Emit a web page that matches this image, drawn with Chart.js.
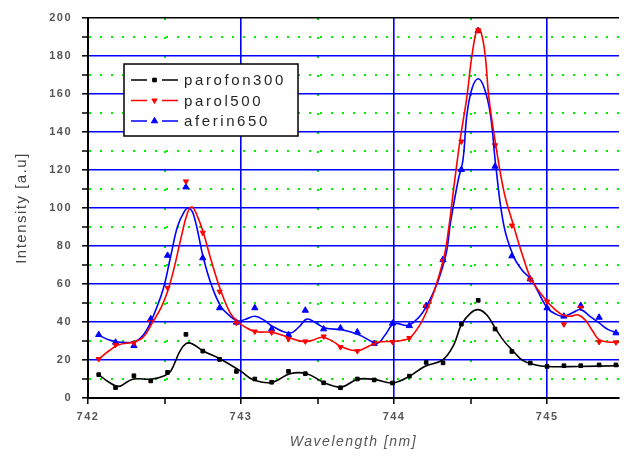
<!DOCTYPE html>
<html>
<head>
<meta charset="utf-8">
<script src="https://cdn.jsdelivr.net/npm/chart.js@4"></script>
<style>
  html, body { margin: 0; padding: 0; background: #fff; }
</style>
</head>
<body>
<canvas id="spectra" width="624" height="459"></canvas>
<script>
// measured samples (wavelength in nm)
const sampleX = [742.07, 742.18, 742.30, 742.41, 742.52, 742.64, 742.75, 742.86, 742.97, 743.09,
  743.20, 743.31, 743.42, 743.54, 743.65, 743.76, 743.87, 743.99, 744.10, 744.21,
  744.32, 744.44, 744.55, 744.66, 744.77, 744.89, 745.00, 745.11, 745.22, 745.34, 745.45];
const parofonPts = [12.3, 5.5, 11.7, 9, 13.5, 33.5, 24.7, 20.3, 14, 10,
  8.3, 14, 12.8, 8, 5.4, 10, 9.5, 7.9, 11.5, 18.7,
  18.5, 38.9, 51.4, 36.3, 24.5, 18.4, 16.6, 17, 17, 17.4, 17.4];
const parolPts = [20.5, 28, 29, 40, 58, 114, 87, 56, 39.5, 35,
  34.5, 31, 29.8, 32.4, 26.8, 24.7, 29, 29.5, 31.6, 48.2,
  72, 135, 193.5, 133, 90.8, 62.3, 50.8, 38.8, 47.5, 29.5, 29.3];
const aferinPts = [33.3, 29.3, 27.5, 41.6, 75, 111, 73.7, 47.4, 39.8, 47.4,
  36.3, 33.3, 46.1, 36.3, 36.8, 34.7, 28.6, 39.3, 38, 48.6,
  72.8, 120.2, 193.3, 121.9, 74.7, 62.6, 47.4, 43, 48.6, 42.4, 34.2];

// smoothed curves
const parofonFitX = [742.07, 742.13, 742.20, 742.26, 742.30, 742.42, 742.50, 742.54, 742.60, 742.64,
  742.68, 742.75, 742.87, 743.00, 743.08, 743.20, 743.32, 743.43, 743.54, 743.655,
  743.76, 743.87, 743.99, 744.10, 744.20, 744.32, 744.39, 744.44, 744.50, 744.55,
  744.605, 744.665, 744.72, 744.78, 744.84, 744.92, 745.00, 745.20, 745.47];
const parofonFit = [12.3, 8.7, 6.1, 8.7, 10, 10, 11.7, 14, 24.5, 28.6,
  28.6, 24.9, 20.3, 14, 9.6, 8.2, 12.8, 12.8, 8.2, 5.8,
  9.8, 9.8, 7.9, 11.4, 16.6, 20.2, 28, 38.6, 44.7, 46.5,
  43.8, 36.3, 29.8, 24.5, 19.8, 17.5, 16.6, 16.6, 17];

const parolFitX = [742.07, 742.14, 742.20, 742.30, 742.36, 742.42, 742.48, 742.52, 742.56, 742.61,
  742.65, 742.68, 742.715, 742.754, 742.81, 742.87, 742.93, 742.98, 743.02, 743.09,
  743.21, 743.32, 743.40, 743.46, 743.53, 743.60, 743.66, 743.76, 743.84, 743.90,
  744.00, 744.05, 744.11, 744.21, 744.32, 744.36, 744.39, 744.43, 744.475, 744.51,
  744.545, 744.57, 744.595, 744.62, 744.665, 744.72, 744.78, 744.84, 744.90, 745.00,
  745.06, 745.10, 745.15, 745.20, 745.25, 745.30, 745.34, 745.40, 745.47];
const parolFit = [20.5, 25, 28, 29.5, 32, 39.5, 48, 56, 67.5, 85,
  97.4, 100.5, 95.6, 87, 71, 56, 44.7, 40, 37.7, 35,
  34.5, 31.6, 29.8, 30.2, 32, 29.8, 26.8, 24.9, 27.5, 29.5,
  29.8, 30.3, 32, 45, 72, 91, 110.5, 135, 158, 180.7,
  194.5, 192, 180.7, 158, 133, 108, 91, 75, 62, 50.8,
  46, 43.8, 43, 43.8, 41, 35, 30.7, 29.5, 29.3];

const aferinFitX = [742.07, 742.14, 742.20, 742.30, 742.36, 742.41, 742.49, 742.54, 742.585, 742.63,
  742.655, 742.69, 742.754, 742.81, 742.87, 742.93, 742.98, 743.03, 743.09, 743.15,
  743.21, 743.32, 743.38, 743.43, 743.49, 743.55, 743.66, 743.77, 743.89, 743.94,
  744.00, 744.10, 744.21, 744.33, 744.37, 744.42, 744.45, 744.476, 744.51, 744.55,
  744.59, 744.63, 744.665, 744.717, 744.78, 744.84, 744.90, 745.00, 745.06, 745.11,
  745.17, 745.22, 745.28, 745.34, 745.40, 745.47];
const aferinFit = [33, 30.5, 29.5, 29.5, 33, 40, 57, 74.5, 90.3, 98.2,
  100, 96.5, 73.7, 58.7, 48, 43, 40.5, 41.5, 43, 41,
  37.5, 34.2, 37.5, 41.5, 39.5, 36.8, 35.9, 33.3, 28.9, 33,
  39.1, 38.4, 47.9, 72.5, 93, 115, 125, 149, 163, 168,
  163, 149, 122, 91, 74.7, 67, 62, 47.5, 44, 43,
  45, 46.5, 43, 39.5, 36, 34];

const xMin = 742, xMax = 745.47;
const yMin = 0, yMax = 200;

const BLUE = '#0000ff', GREEN = '#00ee00', RED = '#ff0000', BLACK = '#000000';

function pairs(xs, ys) {
  return xs.map((x, i) => ({ x: x, y: ys[i] }));
}

function fitSet(xs, ys, color) {
  return {
    data: pairs(xs, ys),
    showLine: true,
    borderColor: color,
    borderWidth: 1.6,
    pointRadius: 0,
    tension: 0.4,
    fill: false
  };
}

function pointSet(label, ys, color, style, radius, rotation) {
  return {
    label: label,
    data: pairs(sampleX, ys),
    showLine: false,
    pointStyle: style,
    pointRadius: radius,
    rotation: rotation,
    backgroundColor: color,
    borderColor: color,
    borderWidth: 1,
    legendEntry: true
  };
}

// boxed legend inside the plot: "— marker —  name"
const boxLegend = {
  id: 'boxLegend',
  afterDraw(chart) {
    const c = chart.ctx;
    const entries = chart.data.datasets.filter(d => d.legendEntry);
    c.save();
    c.fillStyle = '#fff';
    c.fillRect(124, 64, 174, 72);
    c.strokeStyle = '#000';
    c.lineWidth = 1.5;
    c.strokeRect(124, 64, 174, 72);
    c.font = '15px "Liberation Sans", Arial, sans-serif';
    c.letterSpacing = '2.6px';
    c.textBaseline = 'middle';
    entries.forEach((d, i) => {
      const y = 80 + i * 20.5;
      c.strokeStyle = d.borderColor;
      c.lineWidth = 1.5;
      c.beginPath();
      c.moveTo(131, y); c.lineTo(147, y);
      c.moveTo(162, y); c.lineTo(178, y);
      c.stroke();
      c.fillStyle = d.backgroundColor;
      c.lineWidth = 1;
      Chart.helpers.drawPoint(c, {
        pointStyle: d.pointStyle,
        radius: d.pointRadius,
        rotation: d.rotation,
        borderWidth: 1
      }, 154.5, y);
      c.fillStyle = '#262626';
      c.fillText(d.label, 184, y + 1);
    });
    c.restore();
  }
};

// spaced-out tick lettering
const spacedText = {
  id: 'spacedText',
  beforeDraw(chart) { chart.ctx.letterSpacing = '1.5px'; },
  afterDraw(chart) { chart.ctx.letterSpacing = '0px'; }
};

const ctx = document.getElementById('spectra').getContext('2d');
const chart = new Chart(ctx, {
  type: 'scatter',
  data: {
    datasets: [
      fitSet(parofonFitX, parofonFit, BLACK),
      fitSet(parolFitX, parolFit, RED),
      fitSet(aferinFitX, aferinFit, BLUE),
      pointSet('parofon300', parofonPts, BLACK, 'rect', 2.6, 0),
      pointSet('parol500', parolPts, RED, 'triangle', 3, 180),
      pointSet('aferin650', aferinPts, BLUE, 'triangle', 3.6, 0)
    ]
  },
  options: {
    responsive: false,
    animation: false,
    events: [],
    layout: { padding: { top: 18, right: 0, bottom: 0, left: 0 } },
    plugins: {
      legend: { display: false },
      tooltip: { enabled: false }
    },
    scales: {
      x: {
        type: 'linear',
        min: xMin,
        max: xMax,
        afterFit(s) { s.height = 61; },
        ticks: {
          stepSize: 0.5,
          includeBounds: false,
          padding: 6,
          color: '#555',
          font: { family: '"Liberation Sans", Arial, sans-serif', size: 11, weight: 'bold' },
          maxRotation: 0,
          autoSkip: false,
          callback: v => (Math.abs(v - Math.round(v)) < 1e-6 ? String(Math.round(v)) : '')
        },
        grid: {
          color: c => (Math.abs(c.tick.value - Math.round(c.tick.value)) < 1e-6 ? BLUE : GREEN),
          lineWidth: c => (Math.abs(c.tick.value - Math.round(c.tick.value)) < 1e-6 ? 1.6 : 2),
          tickColor: BLACK,
          tickLength: 6,
          tickWidth: 1.5
        },
        border: {
          color: BLACK,
          width: 2,
          dash: c => (c.tick && Math.abs(c.tick.value - Math.round(c.tick.value)) > 1e-6 ? [2, 17] : [])
        },
        title: {
          display: true,
          text: 'Wavelength [nm]',
          color: '#555',
          font: { family: '"Liberation Sans", Arial, sans-serif', size: 14, style: 'italic' },
          padding: { top: 0, bottom: 8 }
        }
      },
      y: {
        min: yMin,
        max: yMax,
        afterFit(s) { s.width = 88; },
        ticks: {
          stepSize: 10,
          padding: 10,
          color: '#555',
          font: { family: '"Liberation Sans", Arial, sans-serif', size: 11, weight: 'bold' },
          callback: v => (v % 20 === 0 ? String(v) : '')
        },
        grid: {
          color: c => (c.tick.value === yMax ? BLACK : (c.tick.value % 20 === 0 ? BLUE : GREEN)),
          lineWidth: c => (c.tick.value % 20 === 0 ? 1.6 : 2),
          tickColor: BLACK,
          tickLength: 6,
          tickWidth: 1.5
        },
        border: {
          color: BLACK,
          width: 2,
          dash: c => (c.tick && c.tick.value % 20 !== 0 ? [2, 9] : [])
        },
        title: {
          display: true,
          text: 'Intensity [a.u]',
          color: '#444',
          font: { family: '"Liberation Sans", Arial, sans-serif', size: 15 },
          padding: { top: 13, bottom: 0 }
        }
      }
    }
  },
  plugins: [spacedText, boxLegend]
});
</script>
</body>
</html>
